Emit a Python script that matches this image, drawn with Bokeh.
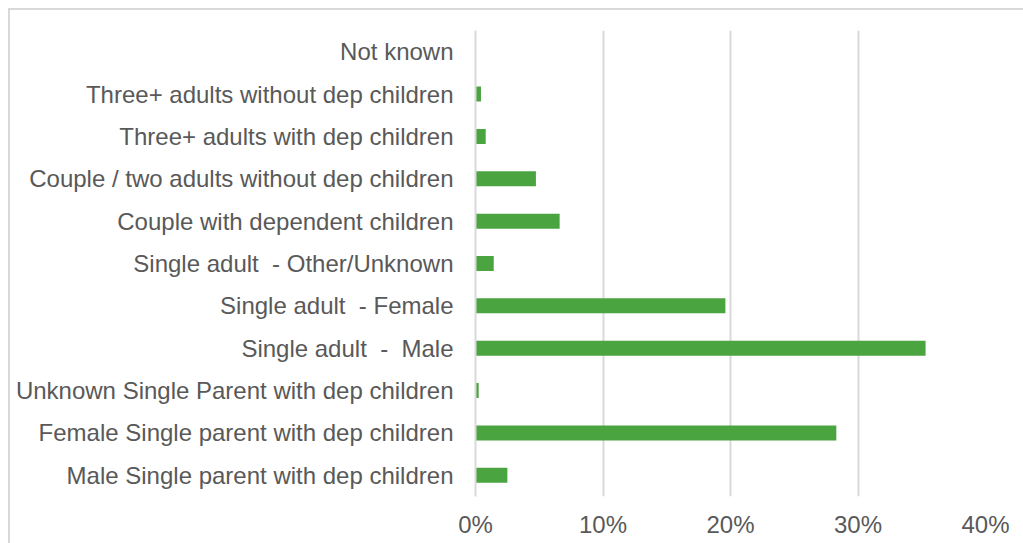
from bokeh.plotting import figure
from bokeh.models import FactorRange, Range1d, NumeralTickFormatter, FixedTicker, ColumnDataSource
from bokeh.embed import file_html
from bokeh.resources import INLINE

NBSP = "\u00a0"

# Household types, listed bottom to top
categories = [
    "Male Single parent with dep children",
    "Female Single parent with dep children",
    "Unknown Single Parent with dep children",
    "Single adult " + NBSP + "-" + NBSP + " Male",
    "Single adult " + NBSP + "- Female",
    "Single adult " + NBSP + "- Other/Unknown",
    "Couple with dependent children",
    "Couple / two adults without dep children",
    "Three+ adults with dep children",
    "Three+ adults without dep children",
    "Not known",
]
shares = [0.025, 0.283, 0.0025, 0.353, 0.196, 0.0143, 0.066, 0.0474, 0.008, 0.0043, 0.0]
x_ticks = [0.0, 0.1, 0.2, 0.3, 0.4]

GRID = "#d9d9d9"
TEXT = "#595959"
GREEN = "#4aa540"
FONT = "Liberation Sans"

source = ColumnDataSource(data=dict(cat=categories, share=shares))

p = figure(
    width=1015, height=535,
    y_range=FactorRange(factors=categories, range_padding=0),
    x_range=Range1d(0, 0.4),
    output_backend="svg", toolbar_location=None,
    min_border_left=465, min_border_right=40,
    min_border_top=20, min_border_bottom=49,
)
p.margin = (8, 0, 0, 8)
p.styles = {"border-top": "2px solid #d9d9d9", "border-left": "2px solid #d9d9d9"}
p.outline_line_color = None
p.background_fill_color = "white"
p.border_fill_color = "white"

p.hbar(y="cat", right="share", left=0, height=0.354, source=source,
       fill_color=GREEN, line_color=None)

# value axis
p.xaxis.ticker = FixedTicker(ticks=x_ticks)
p.xaxis.formatter = NumeralTickFormatter(format="0%")
p.xaxis.axis_line_color = None
p.xaxis.major_tick_line_color = None
p.xaxis.minor_tick_line_color = None
p.xaxis.major_label_text_font = FONT
p.xaxis.major_label_text_font_size = "24px"
p.xaxis.major_label_text_color = TEXT
p.xaxis.major_label_standoff = 8

# category axis
p.yaxis.axis_line_color = GRID
p.yaxis.axis_line_width = 2
p.yaxis.major_tick_line_color = None
p.yaxis.minor_tick_line_color = None
p.yaxis.major_label_text_font = FONT
p.yaxis.major_label_text_font_size = "24px"
p.yaxis.major_label_text_color = TEXT
p.yaxis.major_label_standoff = 16

p.ygrid.grid_line_color = None
p.xgrid.ticker = FixedTicker(ticks=x_ticks[1:])
p.xgrid.grid_line_color = GRID
p.xgrid.grid_line_width = 2

open("out.html", "w").write(file_html(p, INLINE))
